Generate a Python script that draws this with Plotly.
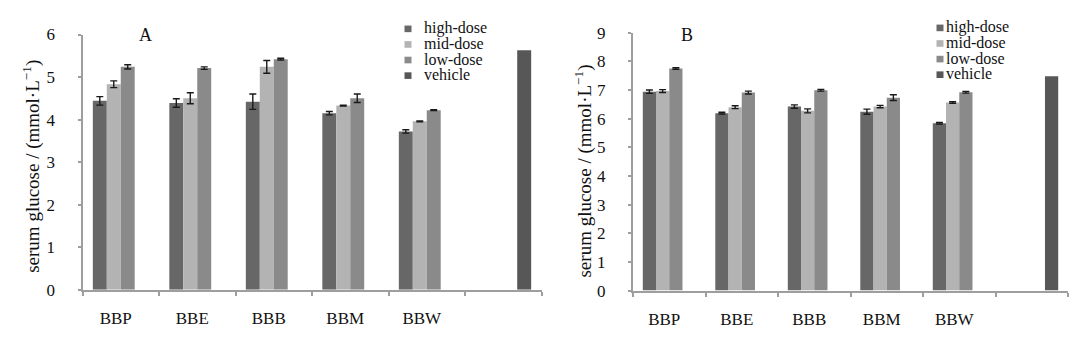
import plotly.graph_objects as go

# ---------------- data ----------------
groups = ["BBP", "BBE", "BBB", "BBM", "BBW"]
series_names = ["high-dose", "mid-dose", "low-dose", "vehicle"]

# Panel A
a_high = [4.44, 4.39, 4.42, 4.15, 3.72]
a_mid = [4.83, 4.50, 5.24, 4.33, 3.96]
a_low = [5.24, 5.21, 5.42, 4.50, 4.22]
a_high_err = [0.10, 0.10, 0.18, 0.04, 0.04]
a_mid_err = [0.08, 0.13, 0.15, 0.01, 0.01]
a_low_err = [0.05, 0.03, 0.02, 0.10, 0.01]
a_vehicle = [5.63]

# Panel B
b_high = [6.94, 6.19, 6.42, 6.24, 5.84]
b_mid = [6.96, 6.40, 6.27, 6.42, 6.56]
b_low = [7.75, 6.91, 6.99, 6.73, 6.92]
b_high_err = [0.06, 0.03, 0.06, 0.09, 0.03]
b_mid_err = [0.05, 0.05, 0.07, 0.04, 0.03]
b_low_err = [0.03, 0.05, 0.03, 0.10, 0.03]
b_vehicle = [7.48]

y_ticks_a = [0, 1, 2, 3, 4, 5, 6]
y_ticks_b = [0, 1, 2, 3, 4, 5, 6, 7, 8, 9]

# category slots: the five extracts, then one slot holding the vehicle bar
n_slots = len(groups) + 1
group_pos = list(range(len(groups)))
vehicle_pos = [len(groups)]
boundaries = [i - 0.5 for i in range(n_slots + 1)]

# ---------------- style ----------------
colors = ["#676767", "#b3b3b3", "#8a8a8a", "#575757"]
FONT = "Liberation Serif"
AXIS_COLOR = "#9e9e9e"
W, H = 1086, 345

fig = go.Figure()


def add_panel(xa, ya, high, mid, low, errs, vehicle):
    for name, vals, err, col in zip(series_names[:3], [high, mid, low], errs, colors[:3]):
        fig.add_trace(go.Bar(
            name=name, x=group_pos, y=vals, marker_color=col, marker_line_width=0,
            error_y=dict(type="data", array=err, color="#1a1a1a", thickness=1.4, width=3.5),
            xaxis=xa, yaxis=ya, showlegend=False))
    fig.add_trace(go.Bar(
        name=series_names[3], x=vehicle_pos, y=vehicle, marker_color=colors[3],
        marker_line_width=0, xaxis=xa, yaxis=ya, showlegend=False))


add_panel("x", "y", a_high, a_mid, a_low, [a_high_err, a_mid_err, a_low_err], a_vehicle)
add_panel("x2", "y2", b_high, b_mid, b_low, [b_high_err, b_mid_err, b_low_err], b_vehicle)

xcommon = dict(
    range=[boundaries[0], boundaries[-1]],
    tickmode="array", tickvals=group_pos, ticktext=groups,
    showline=True, linecolor=AXIS_COLOR, linewidth=2,
    ticks="outside", ticklen=12, tickcolor="rgba(0,0,0,0)",
    minor=dict(tickmode="array", tickvals=boundaries, ticks="outside",
               ticklen=4, tickcolor=AXIS_COLOR, tickwidth=1.5, showgrid=False),
    tickfont=dict(family=FONT, size=17, color="#111"),
    ticklabelshift=-5,
    showgrid=False, zeroline=False, fixedrange=True,
)


def ycommon(ticks):
    return dict(
        tickmode="array", tickvals=ticks,
        showline=True, linecolor=AXIS_COLOR, linewidth=2,
        ticks="outside", ticklen=22, tickcolor="rgba(0,0,0,0)",
        minor=dict(tickmode="array", tickvals=[t + 1e-6 for t in ticks], ticks="outside",
                   ticklen=3, tickcolor=AXIS_COLOR, tickwidth=1.5, showgrid=False),
        tickfont=dict(family=FONT, size=17, color="#111"),
        showgrid=False, zeroline=False, fixedrange=True,
    )


ytitle = "serum glucose / (mmol·L<sup>−1</sup>)"

fig.update_layout(
    width=W, height=H,
    margin=dict(l=0, r=0, t=0, b=0),
    paper_bgcolor="white", plot_bgcolor="white",
    barmode="group", bargap=0.27, bargroupgap=0,
    showlegend=False,
    xaxis=dict(domain=[82.5 / W, 541.5 / W], anchor="y", **xcommon),
    yaxis=dict(domain=[(H - 297) / H, (H - 27) / H], anchor="x", range=[0, 6],
               **ycommon(y_ticks_a)),
    xaxis2=dict(domain=[633 / W, 1068 / W], anchor="y2", **xcommon),
    yaxis2=dict(domain=[(H - 298) / H, (H - 25) / H], anchor="x2", range=[0, 9],
                **ycommon(y_ticks_b)),
    font=dict(family=FONT, color="#111"),
)

annotations = []
shapes = []

# y-axis titles
for x_px, y_px in [(32, 167), (584, 172)]:
    annotations.append(dict(
        text=ytitle, xref="paper", yref="paper", x=x_px / W, y=(H - y_px) / H,
        xanchor="center", yanchor="middle", textangle=-90, showarrow=False,
        font=dict(family=FONT, size=19, color="#111")))

# panel letters
for letter, x_px, y_px in [("A", 145, 28), ("B", 687, 28)]:
    annotations.append(dict(
        text=letter, xref="paper", yref="paper", x=x_px / W, y=(H - y_px) / H,
        xanchor="center", yanchor="middle", showarrow=False,
        font=dict(family=FONT, size=18, color="#111")))

# manual legends (marker x, text x, row centres)
legend_specs = [
    (408, 421.5, [20, 36.5, 53, 69.5]),
    (940, 944, [19, 35.5, 52, 68.5]),
]
for mx, tx, rows in legend_specs:
    for name, col, ry in zip(series_names, colors, rows):
        shapes.append(dict(
            type="rect", xref="paper", yref="paper",
            x0=(mx - 3.5) / W, x1=(mx + 3.5) / W,
            y0=(H - ry - 4.5) / H, y1=(H - ry + 2.5) / H,
            fillcolor=col, line=dict(width=0)))
        annotations.append(dict(
            text=name, xref="paper", yref="paper", x=tx / W, y=(H - ry) / H,
            xanchor="left", yanchor="middle", showarrow=False,
            font=dict(family=FONT, size=16, color="#111")))

fig.update_layout(annotations=annotations, shapes=shapes)

fig.write_html("out.html")
